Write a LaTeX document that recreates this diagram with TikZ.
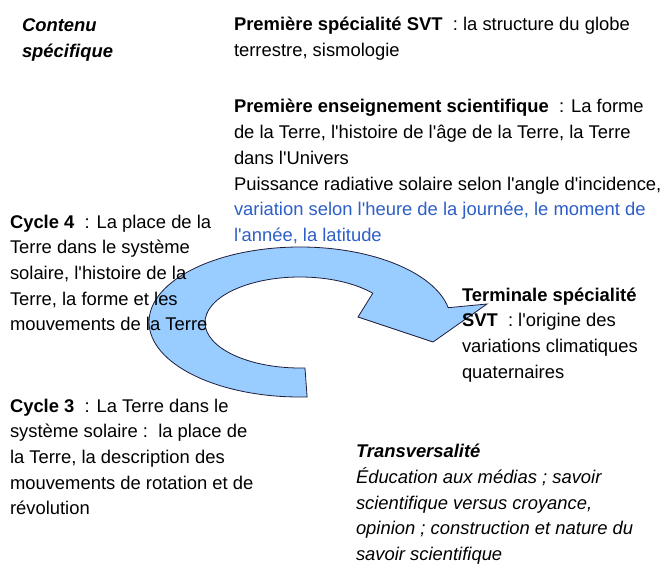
\documentclass[tikz,border=0pt]{standalone}
\usepackage{fontspec}
\setmainfont{Liberation Sans}[Ligatures=TeXOff]
\definecolor{arrowfill}{RGB}{153,204,255}
\definecolor{arrowline}{RGB}{30,30,60}
\definecolor{txtblue}{RGB}{45,95,200}
\begin{document}
\begin{tikzpicture}[x=1bp,y=1bp,
  txt/.style={anchor=base west,inner sep=0pt,outer sep=0pt,
    font=\fontsize{18.4bp}{25.7bp}\selectfont},
  arrowshape/.style={fill=arrowfill,draw=arrowline,line width=0.8bp,line join=miter}]
\useasboundingbox (0,0) rectangle (669,-583);
\fill[white] (0,0) rectangle (669,-583);
% circular arrow
\draw[arrowshape]
  ([shift={(300,-322)}]272.7:151 and 75)
    arc[start angle=272.7,end angle=11,x radius=151,y radius=75]
  -- (487,-304) -- (433,-342) -- (358,-317)
  -- ([shift={(300,-322.5)}]40:95 and 45.5)
    arc[start angle=40,end angle=273,x radius=95,y radius=45.5]
  -- cycle;
% texts
\node[txt] (contenu) at (22,-32) {\begin{tabular}[t]{@{}l@{}}
\textbf{\textit{Contenu}}\\
\textbf{\textit{spécifique}}
\end{tabular}};
\node[txt] (premsvt) at (234,-31) {\begin{tabular}[t]{@{}l@{}}
\textbf{Première spécialité SVT}~~: la structure du globe\\
terrestre, sismologie
\end{tabular}};
\node[txt] (premens) at (234,-113) {\begin{tabular}[t]{@{}l@{}}
\textbf{Première enseignement scientifique}~~: La forme\\
de la Terre, l'histoire de l'âge de la Terre, la Terre\\
dans l'Univers\\
Puissance radiative solaire selon l'angle d'incidence,\\
\textcolor{txtblue}{variation selon l'heure de la journée, le moment de}\\
\textcolor{txtblue}{l'année, la latitude}
\end{tabular}};
\node[txt] (cycle4) at (10,-228) {\begin{tabular}[t]{@{}l@{}}
\textbf{Cycle 4}~~: La place de la\\
Terre dans le système\\
solaire, l'histoire de la\\
Terre, la forme et les\\
mouvements de la Terre
\end{tabular}};
\node[txt] (terminale) at (462,-301) {\begin{tabular}[t]{@{}l@{}}
\textbf{Terminale spécialité}\\
\textbf{SVT}~~: l'origine des\\
variations climatiques\\
quaternaires
\end{tabular}};
\node[txt] (cycle3) at (10,-412) {\begin{tabular}[t]{@{}l@{}}
\textbf{Cycle 3}~~: La Terre dans le\\
système solaire :~~la place de\\
la Terre, la description des\\
mouvements de rotation et de\\
révolution
\end{tabular}};
\node[txt] (transv) at (356,-457.7) {\begin{tabular}[t]{@{}l@{}}
\textbf{\textit{Transversalité}}\\
\textit{Éducation aux médias ; savoir}\\
\textit{scientifique versus croyance,}\\
\textit{opinion ; construction et nature du}\\
\textit{savoir scientifique}
\end{tabular}};
\end{tikzpicture}
\end{document}
